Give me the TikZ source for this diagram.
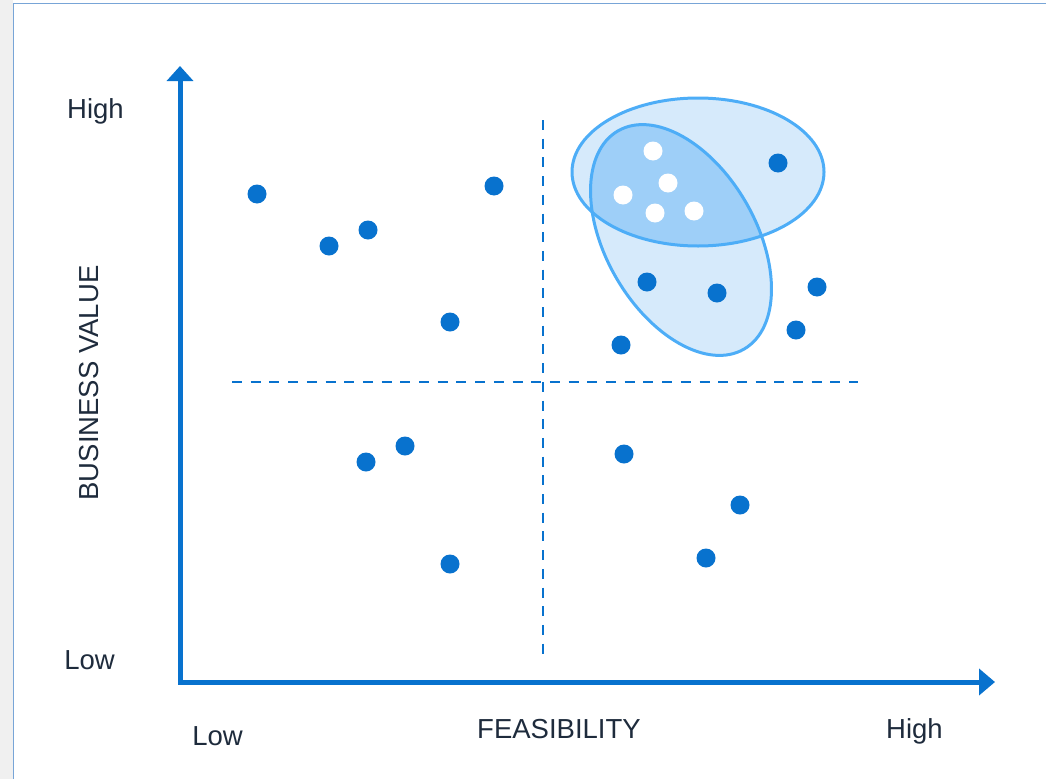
\documentclass[tikz,border=0pt]{standalone}
\usepackage{fontspec}
\setmainfont{Liberation Sans}
\usetikzlibrary{arrows.meta}
\definecolor{axisblue}{RGB}{8,114,206}
\definecolor{ringblue}{RGB}{77,173,247}
\definecolor{lightfill}{RGB}{214,234,251}
\definecolor{darkfill}{RGB}{158,207,248}
\definecolor{textc}{RGB}{30,43,60}
\definecolor{framec}{RGB}{120,165,215}
\begin{document}
\begin{tikzpicture}[x=1pt,y=-1pt,
  dot/.style={circle, fill=axisblue, inner sep=0pt, minimum size=19pt},
  wdot/.style={circle, fill=white, inner sep=0pt, minimum size=19pt},
  lbl/.style={text=textc, font=\fontsize{27.5}{33}\selectfont, inner sep=0pt, anchor=base},
  axis/.style={draw=axisblue, line width=5pt, line join=miter},
  quad/.style={draw=axisblue, line width=2.5pt, dash pattern=on 10pt off 8.7pt},
  ring/.style={draw=ringblue, line width=3pt}]
  \useasboundingbox (0,0) rectangle (1046,779);
  \fill[black!6] (0,0) rectangle (13,779);
  \draw[framec, line width=1pt] (13.5,779) -- (13.5,3.5) -- (1046,3.5);

  % axes
  \coordinate (o) at (180,682);
  \coordinate (ytip) at (180,66);
  \coordinate (xtip) at (995,682);
  \draw[axis, {Triangle[length=15pt,width=26pt]}-{Triangle[length=16pt,width=26pt]}] (ytip) -- (o) -- (xtip);

  % quadrant lines
  \coordinate (hl) at (232,382);
  \coordinate (hr) at (858,382);
  \coordinate (vt) at (543,120);
  \coordinate (vb) at (543,655);
  \draw[quad] (hl) -- (hr);
  \draw[quad] (vt) -- (vb);

  % clusters
  \coordinate (ca) at (698,172);
  \coordinate (cb) at (681,240);
  \fill[lightfill] (ca) ellipse [x radius=126, y radius=74];
  \fill[lightfill, rotate around={-60:(cb)}] (cb) ellipse [x radius=126, y radius=75];
  \begin{scope}
    \clip (ca) ellipse [x radius=126, y radius=74];
    \fill[darkfill, rotate around={-60:(cb)}] (cb) ellipse [x radius=126, y radius=75];
  \end{scope}
  \draw[ring] (ca) ellipse [x radius=126, y radius=74];
  \draw[ring, rotate around={-60:(cb)}] (cb) ellipse [x radius=126, y radius=75];

  % ideas
  \foreach \x/\y [count=\i] in {257/194, 329/246, 368/230, 494/186, 450/322, 621/345,
      647/282, 717/293, 817/287, 796/330, 778/163, 405/446, 366/462, 624/454,
      740/505, 706/558, 450/564}
    \node[dot] (d\i) at (\x,\y) {};
  \foreach \x/\y [count=\i] in {653/151, 668/183, 623/195, 655/213, 694/211}
    \node[wdot] (w\i) at (\x,\y) {};

  % labels
  \node[lbl] (yhigh) at (95.5,118) {High};
  \node[lbl] (ylow) at (89.5,669) {Low};
  \node[lbl] (xlow) at (217.5,745) {Low};
  \node[lbl] (xname) at (559,738) {FEASIBILITY};
  \node[lbl] (xhigh) at (914.5,738) {High};
  \node[lbl, rotate=90] (yname) at (98,383) {BUSINESS VALUE};
\end{tikzpicture}
\end{document}
